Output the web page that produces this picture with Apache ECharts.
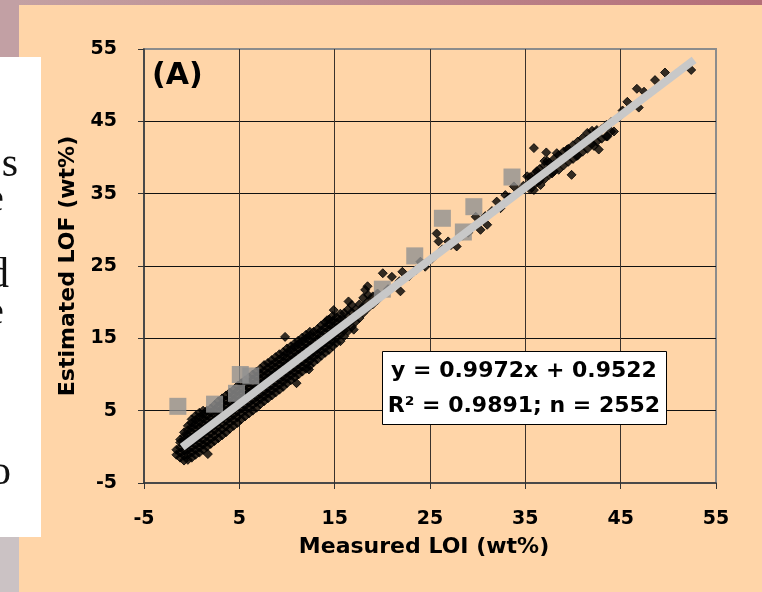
<!DOCTYPE html>
<html>
<head>
<meta charset="utf-8">
<title>Estimated LOF vs Measured LOI</title>
<script src="https://cdn.jsdelivr.net/npm/echarts@6/dist/echarts.min.js"></script>
<style>
  html, body { margin: 0; padding: 0; background: #FFD5A8; }
  #chart { width: 762px; height: 592px; }
</style>
</head>
<body>
<div id="chart"></div>
<script>
// Axis ticks (wt%)
const xTicks = [-5, 5, 15, 25, 35, 45, 55];
const yTicks = [-5, 5, 15, 25, 35, 45, 55];

// Regression fit reported in the box
const fitSlope = 0.9972;
const fitIntercept = 0.9522;
const fitR2 = 0.9891;
const sampleCount = 2552;
const fitRange = [-1.0, 52.7];

// Samples: [measured LOI, estimated LOF]
const samples = [
  [-1.6,-1.1],[-1.6,-0.4],
  [-1.2,-1.5],[-1.2,-0.8],[-1.2,-0.1],[-1.2,0.6],[-1.2,1.0],
  [-0.8,-1.9],[-0.8,-1.2],[-0.8,-0.5],[-0.8,0.2],[-0.8,0.9],[-0.8,1.5],[-0.8,2.0],
  [-0.4,-1.8],[-0.4,-1.1],[-0.4,-0.4],[-0.4,0.3],[-0.4,1.0],[-0.4,1.7],[-0.4,2.3],[-0.4,2.9],
  [0,-1.5],[0,-0.8],[0,-0.1],[0,0.6],[0,1.3],[0,2.0],[0,2.7],[0,3.3],[0,3.8],
  [0.4,-1.1],[0.4,-0.4],[0.4,0.3],[0.4,1.0],[0.4,1.7],[0.4,2.4],[0.4,3.1],[0.4,3.7],[0.4,4.3],
  [0.8,-0.8],[0.8,-0.1],[0.8,0.6],[0.8,1.3],[0.8,2.0],[0.8,2.7],[0.8,3.4],[0.8,4.1],[0.8,4.7],
  [1.2,-0.4],[1.2,0.3],[1.2,1.0],[1.2,1.8],[1.2,2.5],[1.2,3.2],[1.2,3.9],[1.2,4.5],[1.2,5.0],
  [1.6,0.0],[1.6,0.7],[1.6,1.5],[1.6,2.2],[1.6,2.9],[1.6,3.6],[1.6,4.3],[1.6,5.0],
  [2.0,0.4],[2.0,1.1],[2.0,1.9],[2.0,2.6],[2.0,3.3],[2.0,4.0],[2.0,4.7],[2.0,5.3],
  [2.4,0.8],[2.4,1.5],[2.4,2.3],[2.4,3.0],[2.4,3.7],[2.4,4.4],[2.4,5.1],[2.4,5.8],
  [2.8,1.2],[2.8,2.0],[2.8,2.8],[2.8,3.5],[2.8,4.2],[2.8,4.9],[2.8,5.6],[2.8,6.3],
  [3.2,1.6],[3.2,2.4],[3.2,3.2],[3.2,3.9],[3.2,4.6],[3.2,5.3],[3.2,6.0],[3.2,6.7],
  [3.6,2.0],[3.6,2.8],[3.6,3.6],[3.6,4.3],[3.6,5.0],[3.6,5.7],[3.6,6.4],[3.6,7.1],
  [4.0,2.5],[4.0,3.3],[4.0,4.0],[4.0,4.7],[4.0,5.4],[4.0,6.1],[4.0,6.8],[4.0,7.5],
  [4.4,2.9],[4.4,3.7],[4.4,4.4],[4.4,5.1],[4.4,5.8],[4.4,6.5],[4.4,7.2],[4.4,7.9],
  [4.8,3.3],[4.8,4.1],[4.8,4.9],[4.8,5.6],[4.8,6.3],[4.8,7.0],[4.8,7.7],[4.8,8.4],
  [5.2,3.8],[5.2,4.6],[5.2,5.3],[5.2,6.0],[5.2,6.7],[5.2,7.4],[5.2,8.1],[5.2,8.8],
  [5.6,4.2],[5.6,5.0],[5.6,5.7],[5.6,6.4],[5.6,7.1],[5.6,7.8],[5.6,8.5],[5.6,9.2],
  [6.0,4.6],[6.0,5.4],[6.0,6.1],[6.0,6.8],[6.0,7.5],[6.0,8.2],[6.0,8.9],[6.0,9.6],
  [6.4,5.0],[6.4,5.8],[6.4,6.5],[6.4,7.2],[6.4,7.9],[6.4,8.6],[6.4,9.3],[6.4,10.0],
  [6.8,5.4],[6.8,6.2],[6.8,6.9],[6.8,7.6],[6.8,8.3],[6.8,9.0],[6.8,9.7],[6.8,10.4],
  [7.2,5.9],[7.2,6.6],[7.2,7.3],[7.2,8.0],[7.2,8.7],[7.2,9.4],[7.2,10.1],[7.2,10.8],
  [7.6,6.3],[7.6,7.0],[7.6,7.7],[7.6,8.4],[7.6,9.1],[7.6,9.8],[7.6,10.5],[7.6,11.3],
  [8.0,6.7],[8.0,7.4],[8.0,8.1],[8.0,8.8],[8.0,9.5],[8.0,10.2],[8.0,10.9],[8.0,11.6],
  [8.4,7.1],[8.4,7.8],[8.4,8.5],[8.4,9.2],[8.4,9.9],[8.4,10.6],[8.4,11.3],[8.4,12.0],
  [8.8,7.5],[8.8,8.2],[8.8,8.9],[8.8,9.6],[8.8,10.3],[8.8,11.0],[8.8,11.7],[8.8,12.4],
  [9.2,7.9],[9.2,8.6],[9.2,9.3],[9.2,10.0],[9.2,10.7],[9.2,11.4],[9.2,12.1],[9.2,12.8],
  [9.6,8.3],[9.6,9.0],[9.6,9.7],[9.6,10.4],[9.6,11.1],[9.6,11.8],[9.6,12.5],[9.6,13.1],
  [10.0,8.8],[10.0,9.5],[10.0,10.2],[10.0,10.9],[10.0,11.6],[10.0,12.3],[10.0,13.0],[10.0,13.6],
  [10.4,9.2],[10.4,9.9],[10.4,10.6],[10.4,11.3],[10.4,12.0],[10.4,12.7],[10.4,13.4],[10.4,13.9],
  [10.8,9.6],[10.8,10.3],[10.8,11.0],[10.8,11.7],[10.8,12.4],[10.8,13.1],[10.8,13.8],[10.8,14.3],
  [11.2,10.0],[11.2,10.7],[11.2,11.4],[11.2,12.1],[11.2,12.8],[11.2,13.5],[11.2,14.2],[11.2,14.7],
  [11.6,10.4],[11.6,11.1],[11.6,11.8],[11.6,12.5],[11.6,13.2],[11.6,13.9],[11.6,14.6],[11.6,15.1],
  [12.0,10.8],[12.0,11.5],[12.0,12.2],[12.0,12.9],[12.0,13.6],[12.0,14.3],[12.0,15.0],[12.0,15.5],
  [12.4,11.2],[12.4,11.9],[12.4,12.6],[12.4,13.3],[12.4,14.0],[12.4,14.7],[12.4,15.4],[12.4,15.9],
  [12.8,11.7],[12.8,12.4],[12.8,13.1],[12.8,13.8],[12.8,14.5],[12.8,15.2],[12.8,15.9],
  [13.2,12.1],[13.2,12.8],[13.2,13.5],[13.2,14.2],[13.2,14.9],[13.2,15.6],[13.2,16.3],
  [13.6,12.6],[13.6,13.3],[13.6,14.0],[13.6,14.7],[13.6,15.4],[13.6,16.1],[13.6,16.8],
  [14.0,13.0],[14.0,13.7],[14.0,14.4],[14.0,15.1],[14.0,15.8],[14.0,16.5],[14.0,17.2],
  [14.4,13.4],[14.4,14.1],[14.4,14.8],[14.4,15.5],[14.4,16.2],[14.4,16.9],[14.4,17.6],
  [14.8,13.9],[14.8,14.6],[14.8,15.3],[14.8,16.0],[14.8,16.7],[14.8,17.4],[14.8,18.1],
  [15.2,14.4],[15.2,15.1],[15.2,15.8],[15.2,16.5],[15.2,17.2],[15.2,17.9],
  [15.6,14.6],[15.6,15.5],[15.6,16.2],[15.6,16.9],[15.6,17.6],[15.6,18.4],
  [16.0,15.3],[16.0,16.1],[16.0,16.8],[16.0,17.6],[16.0,18.5],
  [16.4,16.0],[16.4,17.0],[16.4,18.0],[16.4,19.0],
  [16.8,16.6],[16.8,17.5],[16.8,18.6],[16.8,19.6],
  [17.2,17.3],[17.2,18.1],[17.2,19.0],
  [17.6,17.8],[17.6,18.7],[17.6,19.7],
  [18.0,18.5],[18.0,19.4],[18.0,20.6],
  [18.5,19.2],[18.5,20.1],[18.5,21.0],
  [19.0,19.7],[19.0,20.8],
  [19.5,20.3],[19.5,21.2],
  // scattered outliers around the low end
  [1.7,-1.0],[9.8,15.2],[11.0,8.8],[12.3,10.7],[14.2,17.5],[14.9,18.9],
  [16.45,20.1],[17.0,16.2],[18.2,21.7],[18.45,22.2],
  // mid range
  [20.05,24.0],[21.0,23.5],[22.1,24.2],[21.9,21.5],[20.6,21.8],[21.8,22.9],
  [22.8,23.6],[23.5,24.4],[24.5,24.9],[24.0,25.6],[25.2,26.0],[25.7,29.5],
  [25.9,28.4],[26.9,28.4],[26.3,27.3],[27.2,27.9],[27.8,27.7],[28.4,29.2],
  [29.0,29.6],[29.8,31.8],[30.3,30.0],[31.0,30.7],[30.8,31.9],[31.5,32.6],
  [32.0,33.9],[32.4,33.0],[32.9,34.8],[33.3,34.5],[33.8,36.0],[34.3,35.3],
  [34.8,36.1],[35.2,37.4],[35.9,35.5],[35.9,41.3],[37.2,40.7],[36.2,38.1],
  [36.6,36.2],[36.8,37.4],[37.3,39.5],[37.8,37.8],[38.2,39.0],[38.3,40.6],
  // dense cluster 35-44
  [35.5,35.6],[35.5,36.6],[35.5,37.3],
  [36.0,36.3],[36.0,37.1],[36.0,37.8],
  [36.5,36.8],[36.5,37.6],[36.5,38.4],
  [37.0,37.0],[37.0,38.0],[37.0,38.9],[37.0,39.5],
  [37.5,37.6],[37.5,38.5],[37.5,39.3],
  [38.0,38.1],[38.0,39.0],[38.0,39.8],
  [38.5,38.3],[38.5,39.4],[38.5,40.3],
  [39.0,38.9],[39.0,39.9],[39.0,40.8],
  [39.5,39.4],[39.5,40.5],[39.5,41.2],
  [40.0,39.8],[40.0,40.9],[40.0,41.7],
  [40.5,40.3],[40.5,41.4],[40.5,42.2],
  [41.0,40.8],[41.0,41.9],[41.0,42.7],
  [41.5,41.2],[41.5,42.5],[41.5,43.4],
  [42.0,41.9],[42.0,42.9],[42.0,43.7],
  [42.5,42.2],[42.5,43.5],[42.5,43.8],
  [43.0,42.6],[43.0,43.9],
  [43.5,42.9],[43.5,44.5],
  [44.0,43.6],[44.0,44.9],
  [39.85,37.6],[42.7,41.1],[42.2,41.6],[44.3,43.6],[43.6,42.9],[39.4,41.1],[40.4,40.2],
  // high end
  [44.8,45.6],[45.2,46.5],[45.7,47.7],[46.9,46.9],[46.7,49.5],[47.45,49.1],
  [48.6,50.7],[49.65,51.75],[52.4,52.1]
];

// Highlighted samples (grey squares): [measured LOI, estimated LOF]
const standards = [
  [-1.45,5.6],[2.4,5.9],[4.7,7.4],[5.1,10.0],[6.2,9.8],
  [20.0,21.8],[23.4,26.4],[26.3,31.6],[28.5,29.7],[29.6,33.2],[33.6,37.3]
];

const fitLine = fitRange.map(x => [x, fitSlope * x + fitIntercept]);

const font = 'DejaVu Sans';
const chart = echarts.init(document.getElementById('chart'), null, { renderer: 'canvas' });

chart.setOption({
  animation: false,
  backgroundColor: '#FFD5A8',
  grid: {
    left: 144, right: 46, top: 49, bottom: 109,
    show: true, borderColor: '#8C8C8C', borderWidth: 2,
    backgroundColor: 'transparent'
  },
  xAxis: {
    type: 'value',
    min: xTicks[0], max: xTicks[xTicks.length - 1], interval: 10,
    name: 'Measured LOI (wt%)',
    nameLocation: 'middle', nameGap: 53,
    nameTextStyle: { fontFamily: font, fontWeight: 'bold', fontSize: 22, color: '#000', padding: [0, 12, 0, 0] },
    axisLine: { show: true, onZero: false, lineStyle: { color: '#333', width: 1.5 } },
    axisTick: { show: true, length: 6, lineStyle: { color: '#333', width: 1 } },
    axisLabel: { fontFamily: font, fontWeight: 'bold', fontSize: 19, color: '#000', margin: 27 },
    splitLine: { show: true, showMaxLine: false, showMinLine: false, lineStyle: { color: '#3A322C', width: 1 } }
  },
  yAxis: {
    type: 'value',
    min: yTicks[0], max: yTicks[yTicks.length - 1], interval: 10,
    name: 'Estimated LOF (wt%)',
    nameLocation: 'middle', nameGap: 63,
    nameTextStyle: { fontFamily: font, fontWeight: 'bold', fontSize: 22, color: '#000' },
    axisLine: { show: true, onZero: false, lineStyle: { color: '#333', width: 1.5 } },
    axisTick: { show: true, length: 6, lineStyle: { color: '#333', width: 1 } },
    axisLabel: { fontFamily: font, fontWeight: 'bold', fontSize: 19, color: '#000', margin: 27 },
    splitLine: { show: true, showMaxLine: false, showMinLine: false, lineStyle: { color: '#111', width: 1 } }
  },
  series: [
    {
      name: 'Samples',
      type: 'scatter',
      data: samples,
      symbol: 'diamond',
      symbolSize: 9,
      itemStyle: { color: '#000', borderColor: '#000', borderWidth: 1 },
      silent: true
    },
    {
      name: 'Standards',
      type: 'scatter',
      data: standards,
      symbol: 'rect',
      symbolSize: 17,
      itemStyle: { color: '#919191' },
      silent: true
    },
    {
      name: 'Fit',
      type: 'line',
      data: fitLine,
      symbol: 'none',
      lineStyle: { color: '#C8C8C8', width: 8, cap: 'butt' },
      silent: true
    }
  ],
  graphic: [
    // slide frame: top band, side strip and text panel
    { type: 'rect', left: 0, top: 0, shape: { width: 762, height: 5 },
      style: { fill: new echarts.graphic.LinearGradient(0, 0, 1, 0, [
        { offset: 0, color: '#C4A2A4' }, { offset: 1, color: '#B56E78' }]) } },
    { type: 'rect', left: 0, top: 0, shape: { width: 19, height: 592 }, style: { fill: '#C2A0A4' } },
    { type: 'rect', left: 0, top: 537, shape: { width: 19, height: 55 }, style: { fill: '#CBC2C4' } },
    { type: 'rect', left: 0, top: 57, shape: { width: 41, height: 480 }, style: { fill: '#FFFFFF' } },
    { type: 'text', x: 18, y: 186, style: { text: 's', font: '42px "Liberation Serif"', fill: '#111', align: 'right', verticalAlign: 'bottom' } },
    { type: 'text', x: 4, y: 221, style: { text: 'e', font: '42px "Liberation Serif"', fill: '#111', align: 'right', verticalAlign: 'bottom' } },
    { type: 'text', x: 9, y: 297, style: { text: 'd', font: '42px "Liberation Serif"', fill: '#111', align: 'right', verticalAlign: 'bottom' } },
    { type: 'text', x: 4, y: 334, style: { text: 'e', font: '42px "Liberation Serif"', fill: '#111', align: 'right', verticalAlign: 'bottom' } },
    { type: 'text', x: 11, y: 494, style: { text: 'o', font: '42px "Liberation Serif"', fill: '#111', align: 'right', verticalAlign: 'bottom' } },
    // panel tag
    { type: 'text', x: 152, y: 76, style: { text: '(A)', font: 'bold 30px "DejaVu Sans"', fill: '#000', verticalAlign: 'middle' }, z: 10 },
    // fit box
    { type: 'rect', left: 382, top: 351, shape: { width: 284, height: 73 },
      style: { fill: '#FFFFFF', stroke: '#000', lineWidth: 1 }, z: 10 },
    { type: 'text', x: 524, y: 371, z: 11,
      style: { text: 'y = ' + fitSlope.toFixed(4) + 'x + ' + fitIntercept.toFixed(4),
        font: 'bold 22px "DejaVu Sans"', fill: '#000', align: 'center', verticalAlign: 'middle' } },
    { type: 'text', x: 524, y: 406, z: 11,
      style: { text: 'R\u00B2 = ' + fitR2.toFixed(4) + '; n = ' + sampleCount,
        font: 'bold 22px "DejaVu Sans"', fill: '#000', align: 'center', verticalAlign: 'middle' } }
  ]
});
</script>
</body>
</html>
